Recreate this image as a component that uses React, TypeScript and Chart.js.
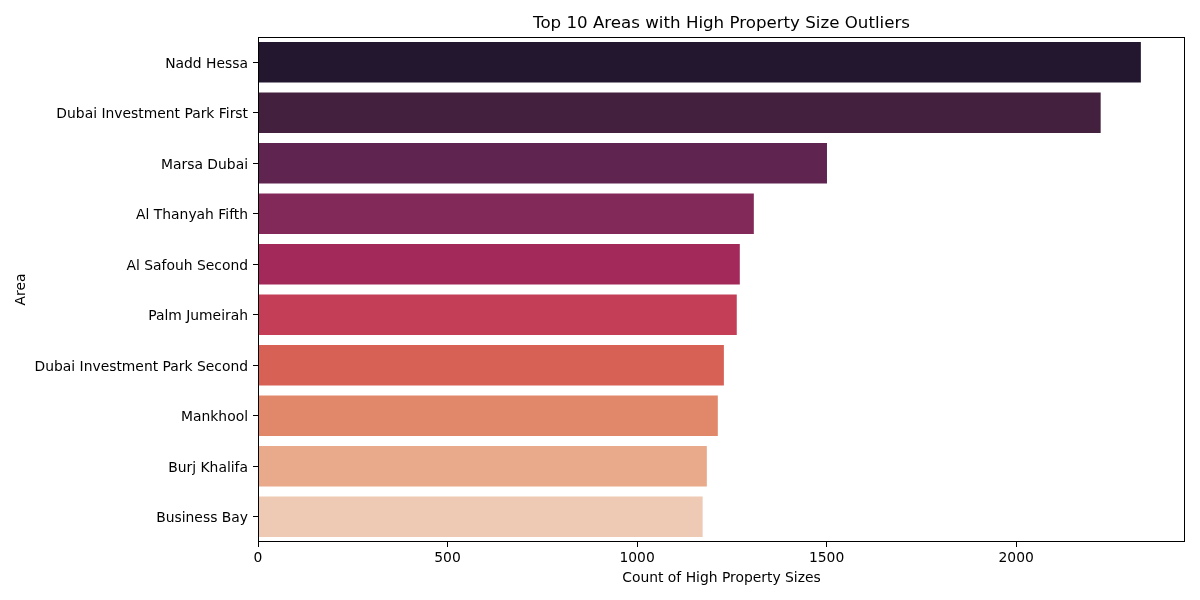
import React, { useEffect, useRef } from "react";
import { Chart, registerables } from "chart.js";

Chart.register(...registerables);

const areas = [
  "Nadd Hessa",
  "Dubai Investment Park First",
  "Marsa Dubai",
  "Al Thanyah Fifth",
  "Al Safouh Second",
  "Palm Jumeirah",
  "Dubai Investment Park Second",
  "Mankhool",
  "Burj Khalifa",
  "Business Bay",
];

const counts = [2329, 2223, 1501, 1308, 1271, 1263, 1229, 1213, 1184, 1173];

const barColors = [
  "#231730",
  "#44203f",
  "#5f2550",
  "#83295a",
  "#a3295a",
  "#c33e56",
  "#d86155",
  "#e1886a",
  "#e8aa8a",
  "#eecab4",
];

const xTicks = [0, 500, 1000, 1500, 2000];

const FONT = "'DejaVu Sans', sans-serif";

const framePlugin = {
  id: "frame",
  afterDatasetsDraw(chart: any) {
    const { ctx, chartArea } = chart;
    ctx.save();
    ctx.strokeStyle = "#000";
    ctx.lineWidth = 1;
    const l = Math.round(chartArea.left) + 0.5;
    const t = Math.round(chartArea.top) + 0.5;
    const r = Math.round(chartArea.right) - 0.5;
    const b = Math.round(chartArea.bottom) - 0.5;
    ctx.strokeRect(l, t, r - l, b - t);
    ctx.restore();
  },
};

export default function App() {
  const ref = useRef<HTMLCanvasElement | null>(null);

  useEffect(() => {
    if (!ref.current) return;
    const maxV = Math.max(...counts) * 1.05;
    const chart = new Chart(ref.current, {
      type: "bar",
      data: {
        labels: areas,
        datasets: [
          {
            data: counts,
            backgroundColor: barColors,
            borderWidth: 0,
            barPercentage: 0.8,
            categoryPercentage: 1,
          },
        ],
      },
      plugins: [framePlugin],
      options: {
        indexAxis: "y",
        animation: false,
        responsive: false,
        maintainAspectRatio: false,
        layout: { padding: { left: 0, right: 15, top: 0, bottom: 0 } },
        plugins: {
          legend: { display: false },
          tooltip: { enabled: false },
          title: {
            display: true,
            text: "Top 10 Areas with High Property Size Outliers",
            fullSize: false,
            color: "#000",
            font: { family: FONT, size: 16.67, weight: "normal", lineHeight: 1.2 },
            padding: { top: 14, bottom: 3 },
          },
        },
        scales: {
          x: {
            type: "linear",
            min: 0,
            max: maxV,
            afterBuildTicks(scale: any) {
              scale.ticks = xTicks.map((v) => ({ value: v }));
            },
            afterFit(scale: any) {
              scale.height = 58;
            },
            grid: {
              drawOnChartArea: false,
              drawTicks: true,
              tickLength: 5,
              color: "#000",
            },
            border: { display: false },
            ticks: {
              color: "#000",
              padding: 3,
              font: { family: FONT, size: 13.89 },
              callback: (v: any) => String(v),
            },
            title: {
              display: true,
              text: "Count of High Property Sizes",
              color: "#000",
              font: { family: FONT, size: 13.89 },
              padding: { top: 4, bottom: 13 },
            },
          },
          y: {
            type: "category",
            afterFit(scale: any) {
              scale.width = 258;
            },
            grid: {
              drawOnChartArea: false,
              drawTicks: true,
              tickLength: 5,
              color: "#000",
              offset: false,
            },
            border: { display: false },
            ticks: {
              color: "#000",
              padding: 5,
              autoSkip: false,
              labelOffset: 2,
              font: { family: FONT, size: 13.89 },
            },
            title: {
              display: true,
              text: "Area",
              color: "#000",
              font: { family: FONT, size: 13.89 },
              padding: { top: 13, bottom: 0 },
            },
          },
        },
      },
    });
    return () => chart.destroy();
  }, []);

  return (
    <div style={{ position: "fixed", left: 0, top: 0, width: 1200, height: 600, background: "#fff" }}>
      <canvas ref={ref} width={1200} height={600} style={{ display: "block", width: 1200, height: 600 }} />
    </div>
  );
}
